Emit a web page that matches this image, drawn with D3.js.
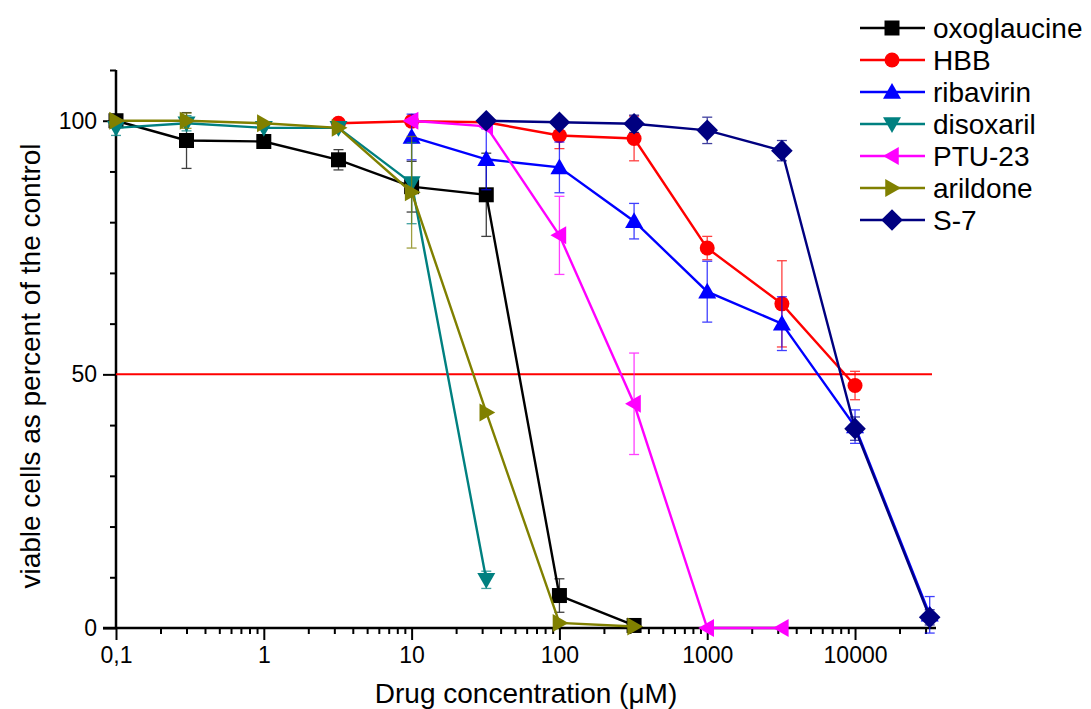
<!DOCTYPE html>
<html>
<head>
<meta charset="utf-8">
<script src="https://cdn.jsdelivr.net/npm/d3@7"></script>
<style>
  body { margin: 0; background: #fff; }
  text { font-family: "Liberation Sans", Arial, sans-serif; }
</style>
</head>
<body>
<script>
// concentrations (uM)
const conc = [0.1, 0.3, 1, 3.2, 10, 32, 100, 320, 1000, 3200, 10000, 32000];

const names = ['oxoglaucine', 'HBB', 'ribavirin', 'disoxaril', 'PTU-23', 'arildone', 'S-7'];
const colors = ['#000000', '#ff0000', '#0000ff', '#008080', '#ff00ff', '#808000', '#000080'];
const symbols = ['square', 'circle', 'up', 'down', 'left', 'right', 'diamond'];

// viability (% control), null = not measured
const oxoglaucine = [100, 96.1, 95.9, 92.3, 87.0, 85.4, 6.4, 0.5, null, null, null, null];
const hbb = [null, null, null, 99.5, 99.9, 99.7, 97.1, 96.5, 74.9, 63.9, 47.8, null];
const ribavirin = [null, null, null, null, 96.8, 92.4, 90.8, 80.2, 66.3, 60.0, 39.7, 2.6];
const disoxaril = [98.6, 99.5, 98.6, 98.6, 87.7, 9.5, null, null, null, null, null, null];
const ptu23 = [null, null, null, null, 100, 98.9, 77.4, 44.2, 0, 0, null, null];
const arildone = [100, 100, 99.5, 98.6, 85.9, 42.5, 1.0, 0.3, null, null, null, null];
const s7 = [null, null, null, null, null, 100, 99.7, 99.4, 98.1, 94.1, 39.3, 2.1];

// standard deviations
const oxoglaucineErr = [0, 5.5, 0.5, 2, 5, 8.2, 3.3, 0.5, 0, 0, 0, 0];
const hbbErr = [0, 0, 0, 0.5, 0.5, 0.5, 2.6, 4.4, 2.3, 8.5, 2.8, 0];
const ribavirinErr = [0, 0, 0, 0, 4.5, 6, 5, 3.5, 6, 5.3, 3.3, 3.6];
const disoxarilErr = [1.5, 1.5, 0.5, 0.5, 8, 1.7, 0, 0, 0, 0, 0, 0];
const ptu23Err = [0, 0, 0, 0, 0.5, 0.5, 7.7, 10, 0, 0, 0, 0];
const arildoneErr = [0, 1.5, 0.5, 0.5, 11, 0.5, 0.5, 0, 0, 0, 0, 0];
const s7Err = [0, 0, 0, 0, 0, 0.5, 0.5, 1.7, 2.6, 2, 2.3, 1.5];

const allValues = [oxoglaucine, hbb, ribavirin, disoxaril, ptu23, arildone, s7];
const allErrs = [oxoglaucineErr, hbbErr, ribavirinErr, disoxarilErr, ptu23Err, arildoneErr, s7Err];

const xTicks = [0.1, 1, 10, 100, 1000, 10000];
const xTickLabels = ['0,1', '1', '10', '100', '1000', '10000'];
const yTicks = [0, 50, 100];

const width = 1091, height = 709;

const x = d3.scaleLog().domain([0.1, 35300]).range([116, 936]);
const y = d3.scaleLinear().domain([0, 110]).range([628, 70]);

const svg = d3.select('body').append('svg')
    .attr('width', width)
    .attr('height', height);

// marker path generator
function markerPath(type, s) {
  switch (type) {
    case 'square': return d3.symbol(d3.symbolSquare, s * s)();
    case 'circle': return d3.symbol(d3.symbolCircle, Math.PI * (s / 2) * (s / 2))();
    case 'diamond': {
      const h = s * 0.72;
      return `M0,${-h}L${h},0L0,${h}L${-h},0Z`;
    }
    case 'up': return `M0,${-s * 0.6}L${s * 0.6},${s * 0.45}L${-s * 0.6},${s * 0.45}Z`;
    case 'down': return `M0,${s * 0.6}L${s * 0.6},${-s * 0.45}L${-s * 0.6},${-s * 0.45}Z`;
    case 'left': return `M${-s * 0.6},0L${s * 0.45},${-s * 0.6}L${s * 0.45},${s * 0.6}Z`;
    case 'right': return `M${s * 0.6},0L${-s * 0.45},${-s * 0.6}L${-s * 0.45},${s * 0.6}Z`;
  }
}

// axes
const xMinor = [];
for (let e = -1; e <= 4; e++) {
  for (let m = 2; m <= 9; m++) {
    const v = m * Math.pow(10, e);
    if (v < 35300) xMinor.push(v);
  }
}

const xAxisMinor = d3.axisBottom(x).tickValues(xMinor).tickSize(6).tickFormat('');
const xAxis = d3.axisBottom(x).tickValues(xTicks).tickSize(12)
    .tickFormat((d, i) => xTickLabels[i]);

svg.append('g').attr('transform', 'translate(0,628)').call(xAxisMinor)
    .call(g => g.select('.domain').remove())
    .call(g => g.selectAll('line').attr('stroke-width', 2));
svg.append('g').attr('transform', 'translate(0,628)').call(xAxis)
    .call(g => g.select('.domain').remove())
    .call(g => g.selectAll('line').attr('stroke-width', 2))
    .call(g => g.selectAll('text').attr('font-size', 23).attr('y', 35).attr('dy', 0)
      .attr('font-family', '"Liberation Sans", Arial, sans-serif'));

svg.append('line')
    .attr('x1', 103).attr('x2', 936)
    .attr('y1', 628).attr('y2', 628)
    .attr('stroke', '#000').attr('stroke-width', 2.5);

const yMinor = d3.range(0, 111, 10).filter(v => !yTicks.includes(v));
svg.append('g').attr('transform', 'translate(116,0)')
    .call(d3.axisLeft(y).tickValues(yMinor).tickSize(6).tickFormat(''))
    .call(g => g.select('.domain').remove())
    .call(g => g.selectAll('line').attr('stroke-width', 2));
svg.append('g').attr('transform', 'translate(116,0)')
    .call(d3.axisLeft(y).tickValues(yTicks).tickSize(13).tickPadding(6))
    .call(g => g.select('.domain').remove())
    .call(g => g.selectAll('line').attr('stroke-width', 2))
    .call(g => g.selectAll('text').attr('font-size', 23)
      .attr('font-family', '"Liberation Sans", Arial, sans-serif'));

svg.append('line')
    .attr('x1', 116).attr('x2', 116)
    .attr('y1', 70).attr('y2', 628)
    .attr('stroke', '#000').attr('stroke-width', 2.5);

// 50% line
svg.append('line')
    .attr('x1', x(0.1)).attr('x2', 932)
    .attr('y1', y(50)).attr('y2', y(50))
    .attr('stroke', '#ff0000').attr('stroke-width', 2);

// axis titles
svg.append('text')
    .attr('x', 526).attr('y', 703)
    .attr('text-anchor', 'middle')
    .attr('font-size', 28)
    .text('Drug concentration (\u03bcM)');

svg.append('text')
    .attr('transform', 'translate(40,366) rotate(-90)')
    .attr('text-anchor', 'middle')
    .attr('font-size', 28)
    .text('viable cells as percent of the control');

// series
const line = d3.line()
    .defined(d => d.v !== null)
    .x(d => x(d.c))
    .y(d => y(d.v));

names.forEach((name, k) => {
  const pts = conc.map((c, i) => ({c: c, v: allValues[k][i], e: allErrs[k][i]}))
      .filter(d => d.v !== null);
  const g = svg.append('g');

  // error bars
  pts.filter(d => d.e > 0.8).forEach(d => {
    const cx = x(d.c);
    const eg = g.append('g').attr('stroke', colors[k]).attr('stroke-width', 1.3)
        .attr('opacity', 0.75);
    eg.append('line').attr('x1', cx).attr('x2', cx)
        .attr('y1', y(d.v + d.e)).attr('y2', y(d.v - d.e));
    [d.v + d.e, d.v - d.e].forEach(v => {
      eg.append('line').attr('x1', cx - 5).attr('x2', cx + 5)
          .attr('y1', y(v)).attr('y2', y(v));
    });
  });

  g.append('path')
      .datum(pts)
      .attr('d', line)
      .attr('fill', 'none')
      .attr('stroke', colors[k])
      .attr('stroke-width', 2.4);

  g.selectAll('path.mk')
    .data(pts)
    .join('path')
      .attr('class', 'mk')
      .attr('transform', d => `translate(${x(d.c)},${y(d.v)})`)
      .attr('d', markerPath(symbols[k], 15))
      .attr('fill', colors[k]);
});

// legend
const legend = svg.append('g');
names.forEach((name, k) => {
  const ly = 28 + k * 32;
  legend.append('line')
      .attr('x1', 860).attr('x2', 925)
      .attr('y1', ly).attr('y2', ly)
      .attr('stroke', colors[k]).attr('stroke-width', 2.4);
  legend.append('path')
      .attr('transform', `translate(892,${ly})`)
      .attr('d', markerPath(symbols[k], 15))
      .attr('fill', colors[k]);
  legend.append('text')
      .attr('x', 933).attr('y', ly)
      .attr('dy', '0.36em')
      .attr('font-size', 28)
      .text(name);
});
</script>
</body>
</html>
